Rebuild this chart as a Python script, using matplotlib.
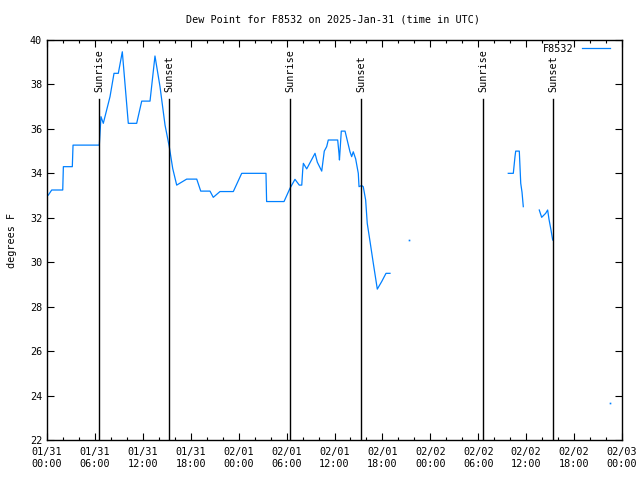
import numpy as np
import matplotlib
matplotlib.use("Agg")
import matplotlib.pyplot as plt

# hours since 2025-01-31 00:00 UTC; NaN marks gaps
hours = [0.16, 0.59, 1.97, 2.05, 3.17, 3.26, 6.55, 6.76, 7.05, 7.89, 8.39, 8.93, 9.43,
         10.18, 11.23, 11.86, 12.90, 13.52, 14.15, 14.78, 15.31, 15.74, 16.24, 17.49,
         18.75, 19.25, 20.41, 20.82, 21.66, 23.33, 24.38, 27.42, 27.50, 29.68, 30.43,
         31.05, 31.59, 31.90, 32.02, 32.10, 32.52, 33.56, 33.85, 34.40, 34.72, 35.02,
         35.22, 35.44, 36.40, 36.56, 36.62, 36.85, 37.32, 37.94, 38.15, 38.35, 38.65,
         38.98, 39.07, 39.40, 39.60, 39.90, 40.10, 40.45, 40.86, 41.36, 41.91, 42.45,
         42.95, np.nan,
         57.76, 58.39, 58.60, 58.69, 59.14, 59.32, 59.48, 59.64, np.nan,
         61.64, 61.94, 62.44, 62.69, 62.86, 63.11, 63.32]
dewpoint = [33.02, 33.25, 33.25, 34.30, 34.30, 35.27, 35.27, 36.55, 36.25, 37.45, 38.50,
            38.50, 39.47, 36.25, 36.25, 37.25, 37.25, 39.28, 37.90, 36.17, 35.20, 34.22,
            33.47, 33.74, 33.74, 33.20, 33.20, 32.92, 33.18, 33.18, 34.00, 34.00, 32.73,
            32.73, 33.33, 33.73, 33.47, 33.47, 34.15, 34.45, 34.20, 34.90, 34.50, 34.10,
            35.00, 35.20, 35.50, 35.50, 35.50, 34.90, 34.60, 35.90, 35.90, 34.97, 34.75,
            34.97, 34.65, 34.00, 33.40, 33.45, 33.40, 32.80, 31.75, 30.93, 29.95, 28.79,
            29.13, 29.50, 29.50, np.nan,
            34.00, 34.00, 34.75, 35.00, 35.00, 33.55, 33.15, 32.50, np.nan,
            32.35, 32.02, 32.20, 32.35, 31.93, 31.45, 31.00]
single_hours = [45.37, 70.54]
single_values = [30.98, 23.65]

sunrise = [6.51, 30.43, 54.60]
sunset = [15.28, 39.32, 63.36]

xtick_hours = list(range(0, 73, 6))
xtick_labels = ["01/31\n00:00", "01/31\n06:00", "01/31\n12:00", "01/31\n18:00",
                "02/01\n00:00", "02/01\n06:00", "02/01\n12:00", "02/01\n18:00",
                "02/02\n00:00", "02/02\n06:00", "02/02\n12:00", "02/02\n18:00",
                "02/03\n00:00"]
yticks = list(range(22, 41, 2))

plt.rcParams['font.family'] = ['DejaVu Sans Mono']
plt.rcParams['font.size'] = 7.3

fig = plt.figure(figsize=(6.4, 4.8), dpi=100)
ax = fig.add_axes([47/640, 40/480, 575/640, 400/480])
color = '#0080ff'
ax.plot(hours, dewpoint, color=color, lw=0.9, label='F8532')
ax.plot(single_hours, single_values, ls='none', marker='s', ms=1.2, color=color, mew=0)

for t in sunrise + sunset:
    ax.axvline(t, ymin=0, ymax=0.8525, color='black', lw=1.0)
for t in sunrise:
    ax.text(t, 37.68, 'Sunrise', rotation=90, ha='center', va='bottom')
for t in sunset:
    ax.text(t, 37.68, 'Sunset', rotation=90, ha='center', va='bottom')

ax.set_xlim(0, 72)
ax.set_ylim(22, 40)
ax.set_xticks(xtick_hours)
ax.set_xticklabels(xtick_labels)
ax.set_xticks(range(0, 73, 2), minor=True)
ax.set_yticks(yticks)
ax.tick_params(which='major', direction='in', length=5, top=True, right=True, width=0.8)
ax.tick_params(which='minor', direction='in', length=2.5, top=True, right=False, width=0.8)
ax.tick_params(axis='x', which='major', pad=5)
for s in ax.spines.values():
    s.set_linewidth(1.0)

ax.set_ylabel('degrees F')
ax.yaxis.set_label_coords(-0.052, 0.5)
fig.text(0.52, 1 - 19/480, 'Dew Point for F8532 on 2025-Jan-31 (time in UTC)',
         ha='center', va='center')

leg = ax.legend(loc='center right', bbox_to_anchor=(0.979, 0.9775), frameon=False,
                markerfirst=False, handlelength=2.8, handletextpad=0.8,
                borderaxespad=0, borderpad=0)

fig.savefig('out.png', dpi=100)
